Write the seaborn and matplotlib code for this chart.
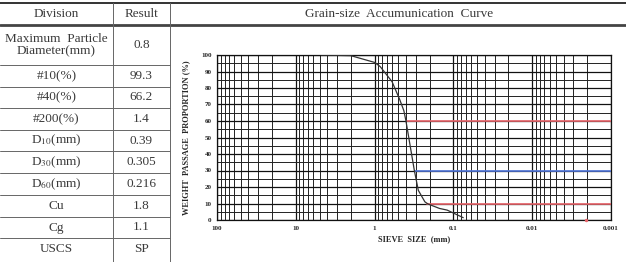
import numpy as np
import pandas as pd
import matplotlib
matplotlib.use("Agg")
import matplotlib.pyplot as plt
import seaborn as sns
from matplotlib.ticker import LogLocator, MultipleLocator, NullFormatter

# --- table content ---
divisions = ["Maximum  Particle\nDiameter(mm)", "#10(%)", "#40(%)", "#200(%)",
             "D$_{10}$(mm)", "D$_{30}$(mm)", "D$_{60}$(mm)", "Cu", "Cg", "USCS"]
results = ["0.8", "99.3", "66.2", "1.4", "0.39", "0.305", "0.216", "1.8", "1.1", "SP"]

# --- grading curve ---
sieve_mm = [4.75, 2.0, 1.0, 0.85, 0.6, 0.48, 0.425, 0.40, 0.313, 0.279, 0.23,
            0.21, 0.15, 0.12, 0.075]
passing = [100, 99.6, 95.5, 93, 83.8, 73, 66.2, 60, 30, 18, 11, 9.7, 7, 6, 1.4]

# reference lines (percent, start size, colour)
ref_pct = [60, 30, 10]
ref_start = [0.39, 0.305, 0.216]
ref_color = ["#e8646a", "#4f74d8", "#e8646a"]

# stray red mark on the x axis
mark_x = [0.00208]
mark_y = [0]

x_ticks = [100, 10, 1, 0.1, 0.01, 0.001]
x_ticklabels = ["100", "10", "1", "0.1", "0.01", "0.001"]

W, H = 626, 262
sns.set_style("white")
plt.rcParams["font.family"] = ["Liberation Serif", "DejaVu Serif"]
plt.rcParams["mathtext.fontset"] = "stix"

fig = plt.figure(figsize=(W / 100, H / 100), dpi=100)

# background axes in pixel coordinates for the table
bg = fig.add_axes([0, 0, 1, 1])
bg.set_xlim(0, W)
bg.set_ylim(H, 0)
bg.axis("off")

row_edges = [25, 65, 87, 108, 130, 151, 173, 195, 217, 238, 260]
col1, col2 = 113, 170
line_c = "#666666"
txt_c = "#3a3a3a"

bg.plot([0, W], [3, 3], color="#333333", lw=1.4)
bg.plot([0, W], [25, 25], color="#444444", lw=2.0)
for y in row_edges[1:-1]:
    bg.plot([0, col2], [y, y], color=line_c, lw=0.7)
for x in (col1, col2):
    bg.plot([x, x], [3, H], color=line_c, lw=0.7)

bg.text(col1 / 2, 14, "Division", ha="center", va="center", fontsize=9.5, color=txt_c)
bg.text((col1 + col2) / 2, 14, "Result", ha="center", va="center", fontsize=9.5, color=txt_c)
bg.text(399, 14, "Grain-size  Accumunication  Curve", ha="center", va="center",
        fontsize=9.5, color=txt_c)

for i, (d, r) in enumerate(zip(divisions, results)):
    yc = (row_edges[i] + row_edges[i + 1]) / 2
    bg.text(col1 / 2, yc, d, ha="center", va="center", fontsize=9.5, color=txt_c,
            linespacing=1.1)
    bg.text((col1 + col2) / 2, yc, r, ha="center", va="center", fontsize=9.5, color=txt_c)

# chart axes
left, right, top, bottom = 217, 611, 55, 220
ax = fig.add_axes([left / W, (H - bottom) / H, (right - left) / W, (bottom - top) / H])

df = pd.DataFrame({"size": sieve_mm, "passing": passing})
sns.lineplot(data=df, x="size", y="passing", ax=ax, color="#333333", lw=0.9, zorder=5)

for p, s, c in zip(ref_pct, ref_start, ref_color):
    ax.plot([s, 0.001], [p, p], color=c, lw=1.2, zorder=4)
sns.scatterplot(x=mark_x, y=mark_y, ax=ax, color="#e8646a", s=6, linewidth=0,
                zorder=6, clip_on=False)

ax.set_xscale("log")
ax.set_xlim(100, 0.001)
ax.set_ylim(0, 100)
ax.set_xticks(x_ticks)
ax.set_xticklabels(x_ticklabels)
ax.xaxis.set_minor_locator(LogLocator(base=10, subs=range(2, 10), numticks=20))
ax.xaxis.set_minor_formatter(NullFormatter())
ax.yaxis.set_major_locator(MultipleLocator(10))
ax.yaxis.set_minor_locator(MultipleLocator(5))
ax.grid(True, which="major", color="#111111", lw=0.9)
ax.grid(True, which="minor", color="#222222", lw=0.7)
ax.tick_params(which="both", length=0, labelsize=5, pad=4)
for lab in ax.get_xticklabels() + ax.get_yticklabels():
    lab.set_fontweight("bold")
for sp in ax.spines.values():
    sp.set_color("#111111")
    sp.set_linewidth(0.9)

ax.set_xlabel("SIEVE  SIZE  (mm)", fontsize=6, fontweight="bold", labelpad=3)
ax.set_ylabel("WEIGHT  PASSAGE  PROPORTION (%)", fontsize=6, fontweight="bold", labelpad=8)

fig.savefig("out.png", dpi=100)
